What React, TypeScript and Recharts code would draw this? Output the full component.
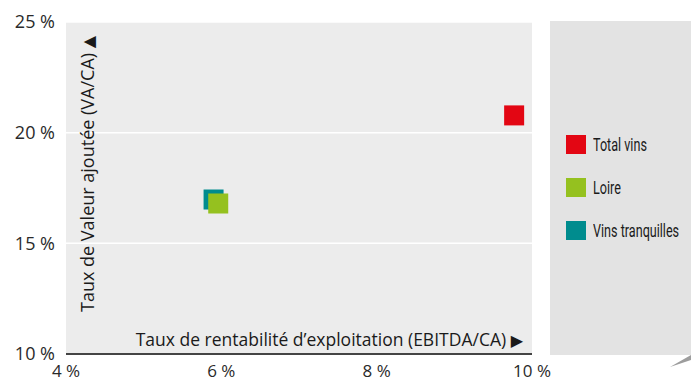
import { ScatterChart, Scatter, XAxis, YAxis, ZAxis, CartesianGrid } from 'recharts'

const seriesNames = ['Total vins', 'Vins tranquilles', 'Loire']
const seriesColors = ['#e30613', '#008c8e', '#95c11f']
const ebitdaRates = [9.77, 5.9, 5.96]
const valueAddedRates = [20.78, 16.98, 16.8]

const legendOrder = ['Total vins', 'Loire', 'Vins tranquilles']
const xTicks = [4, 6, 8, 10]
const yTicks = [10, 15, 20, 25]

const axisFont = '"Open Sans", Lato, sans-serif'
const legendFont = 'Roboto, "Open Sans", sans-serif'

const series = seriesNames.map((name, i) => ({
  name,
  color: seriesColors[i],
  data: [{ x: ebitdaRates[i], y: valueAddedRates[i] }],
}))

function Square(props: any) {
  const { cx, cy, fill } = props
  return <rect x={cx - 10} y={cy - 10} width={20} height={20} fill={fill} />
}

function LegendPanel() {
  return (
    <div style={{ position: 'absolute', left: 550, top: 21, width: 141, height: 334, background: '#e3e3e3' }}>
      {legendOrder.map((name, i) => (
        <div
          key={name}
          style={{
            position: 'absolute',
            left: 16,
            top: 114 + i * 43,
            height: 19,
            display: 'flex',
            alignItems: 'center',
            whiteSpace: 'nowrap',
            fontFamily: legendFont,
            fontSize: 18,
            color: '#1a1a1a',
          }}
        >
          <span
            style={{
              display: 'inline-block',
              width: 20,
              height: 19,
              background: seriesColors[seriesNames.indexOf(name)],
              marginRight: 7,
            }}
          />
          <span style={{ display: 'inline-block', transform: 'scaleX(0.7)', transformOrigin: 'left center' }}>
            {name}
          </span>
        </div>
      ))}
      <svg style={{ position: 'absolute', left: 120, top: 334 }} width={21} height={12}>
        <polygon points="0,12 21,0 21,5" fill="#9d9d9d" />
      </svg>
    </div>
  )
}

export default function App() {
  return (
    <div style={{ position: 'absolute', left: 0, top: 0, width: 691, height: 385, background: '#fff' }}>
      <ScatterChart width={691} height={385} margin={{ top: 22, right: 159, bottom: 0, left: 0 }}>
        <CartesianGrid fill="#ececec" stroke="#ffffff" strokeWidth={1.5} vertical={false} />
        <XAxis
          type="number"
          dataKey="x"
          domain={[4, 10]}
          ticks={xTicks}
          tickFormatter={(v) => `${v} %`}
          height={31}
          tickLine={false}
          axisLine={{ stroke: '#444444', strokeWidth: 2 }}
          tick={{ fontSize: 17, fill: '#2a2a2a', fontFamily: axisFont, dy: 3 }}
        />
        <YAxis
          type="number"
          dataKey="y"
          domain={[10, 25]}
          ticks={yTicks}
          tickFormatter={(v) => `${v} %`}
          width={66}
          tickLine={false}
          axisLine={false}
          tick={{ fontSize: 18, fill: '#2a2a2a', fontFamily: axisFont, dx: -3 }}
        />
        <ZAxis range={[400, 400]} />
        {series.map((s) => (
          <Scatter
            key={s.name}
            name={s.name}
            data={s.data}
            fill={s.color}
            shape={<Square />}
            isAnimationActive={false}
          />
        ))}
        <text x={523} y={346} textAnchor="end" fontSize={17.5} fontFamily={axisFont} fill="#1a1a1a">
          Taux de rentabilité d’exploitation (EBITDA/CA){' '}
          <tspan fontFamily="'DejaVu Sans', sans-serif" fontSize={16}>▶</tspan>
        </text>
        <text
          transform="translate(94, 312) rotate(-90)"
          textAnchor="start"
          fontSize={18}
          fontFamily={axisFont}
          fill="#1a1a1a"
        >
          Taux de Valeur ajoutée (VA/CA){' '}
          <tspan fontFamily="'DejaVu Sans', sans-serif" fontSize={16}>▲</tspan>
        </text>
      </ScatterChart>
      <LegendPanel />
    </div>
  )
}
